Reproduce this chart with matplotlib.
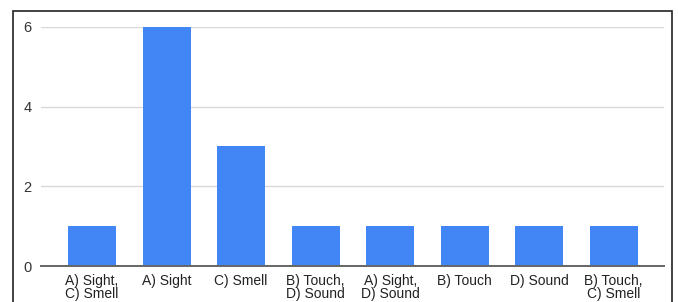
import matplotlib.pyplot as plt
from matplotlib.patches import Rectangle

plt.rcParams['font.family'] = ['Liberation Sans', 'DejaVu Sans']

categories = ["A) Sight,\nC) Smell", "A) Sight", "C) Smell", "B) Touch,\nD) Sound",
              "A) Sight,\nD) Sound", "B) Touch", "D) Sound", "B) Touch,\nC) Smell"]
counts = [1, 6, 3, 1, 1, 1, 1, 1]
y_ticks = [0, 2, 4, 6]

fig = plt.figure(figsize=(6.78, 3.02), dpi=100)
ax = fig.add_axes([41/678, 1 - 266/302, (664 - 41)/678, (266 - 27)/302])

x = range(len(categories))
ax.bar(x, counts, width=0.645, color="#4285F4", zorder=3)

ax.set_xlim(-0.685, len(categories) - 1 + 0.675)
ax.set_ylim(0, 6)
ax.set_yticks(y_ticks)
ax.set_xticks(list(x))
ax.set_xticklabels(categories, fontsize=10, color="#222222", linespacing=0.9)
ax.tick_params(axis="y", length=0, pad=7, labelsize=10.5, labelcolor="#333333")
ax.tick_params(axis="x", length=0, pad=6)

ax.grid(axis="y", color="#d9d9d9", linewidth=1, zorder=0)
for s in ["top", "right", "left"]:
    ax.spines[s].set_visible(False)
ax.spines["bottom"].set_color("#666666")
ax.spines["bottom"].set_linewidth(1.4)
ax.spines["bottom"].set_zorder(4)

# outer frame of the screenshot
fig.patches.append(Rectangle((13/678, -0.05), (672 - 13)/678, 1.05 - 11/302,
                             transform=fig.transFigure, fill=False,
                             edgecolor="#222222", linewidth=1.2))

fig.savefig("out.png", dpi=100)
